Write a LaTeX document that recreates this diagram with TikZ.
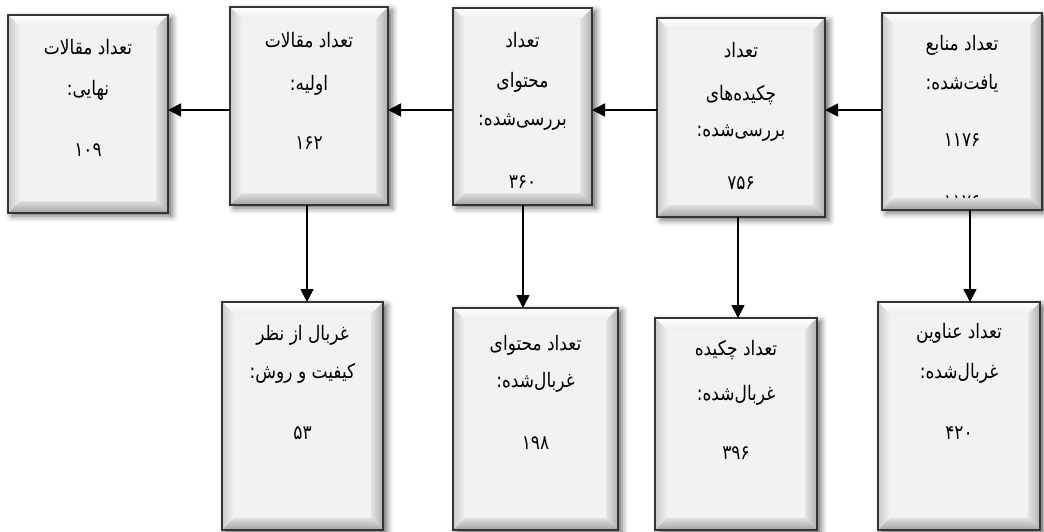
\documentclass[tikz,border=0pt]{standalone}
\usepackage{fontspec}
\newfontfamily\arabicfont[Script=Arabic,FakeStretch=0.85]{DejaVu Sans}
\TeXXeTstate=1
\usetikzlibrary{arrows.meta,calc,shadows.blur}
\definecolor{face}{HTML}{F2F2F2}
\definecolor{edgec}{HTML}{353535}
\newcommand\ar[1]{{\arabicfont\beginR #1\endR}}
\newcommand\nm[1]{{\arabicfont #1}}
\def\bw{12pt}
\tikzset{
  boxnode/.style={rectangle, fill=face, inner sep=0pt, outer sep=0pt,
    blur shadow={shadow xshift=4pt, shadow yshift=-3pt, shadow blur radius=6pt, shadow opacity=60}},
  txt/.style={font=\fontsize{20}{24}\selectfont, inner sep=0pt, text=black},
  arr/.style={line width=1.6pt, draw=black, -{Triangle[length=13pt,width=13pt]}},
}
% name, x1, y1, x2, y2 (pixels, y downwards)
\newcommand\bevface[5]{%
  \node[boxnode, minimum width={(#4-#2)*1pt}, minimum height={(#5-#3)*1pt}]
    (#1) at ({(#2+#4)/2},{(#3+#5)/2}) {};}
\newcommand\bevframe[1]{%
  \shade[top color=white, bottom color=gray!14]
    (#1.north west) -- (#1.north east) -- ($(#1.north east)+(-\bw,-\bw)$) -- ($(#1.north west)+(\bw,-\bw)$) -- cycle;
  \shade[left color=gray!42, right color=gray!10]
    (#1.north west) -- ($(#1.north west)+(\bw,-\bw)$) -- ($(#1.south west)+(\bw,\bw)$) -- (#1.south west) -- cycle;
  \shade[left color=gray!22, right color=gray!62]
    (#1.north east) -- (#1.south east) -- ($(#1.south east)+(-\bw,\bw)$) -- ($(#1.north east)+(-\bw,-\bw)$) -- cycle;
  \shade[top color=gray!25, bottom color=gray!72]
    (#1.south west) -- ($(#1.south west)+(\bw,\bw)$) -- ($(#1.south east)+(-\bw,\bw)$) -- (#1.south east) -- cycle;
  \draw[edgec, line width=1.8pt] (#1.north west) rectangle (#1.south east);}
% name, box, y, text
\newcommand\tline[4]{\node[txt] (#1) at (#2.center |- 0,#3) {#4};}
\begin{document}
\begin{tikzpicture}[x=1pt,y=-1pt]
\useasboundingbox (0,0) rectangle (1044,532);
% top row
\bevface{b1}{8}{15}{168}{213}\bevframe{b1}
\bevface{b2}{230}{7}{388}{205}\bevframe{b2}
\bevface{b3}{453}{8}{592}{205}\bevframe{b3}
\bevface{b4}{657}{18}{825}{217}\bevframe{b4}
\bevface{b5}{882}{13}{1042}{210}
\tline{b5l4}{b5}{202}{\nm{۱۱۷۶}}
\bevframe{b5}
% bottom row
\bevface{b6}{222}{302}{383}{530}\bevframe{b6}
\bevface{b7}{453}{308}{618}{530}\bevframe{b7}
\bevface{b8}{655}{318}{817}{530}\bevframe{b8}
\bevface{b9}{878}{302}{1040}{530}\bevframe{b9}
% texts
\tline{b1l1}{b1}{47}{\ar{تعداد مقالات}}
\tline{b1l2}{b1}{90}{\ar{نهایی:}}
\tline{b1l3}{b1}{150}{\nm{۱۰۹}}
\tline{b2l1}{b2}{40}{\ar{تعداد مقالات}}
\tline{b2l2}{b2}{85}{\ar{اولیه:}}
\tline{b2l3}{b2}{143}{\nm{۱۶۲}}
\tline{b3l1}{b3}{40}{\ar{تعداد}}
\tline{b3l2}{b3}{82}{\ar{محتوای}}
\tline{b3l3}{b3}{122}{\ar{بررسی‌شده:}}
\tline{b3l4}{b3}{182}{\nm{۳۶۰}}
\tline{b4l1}{b4}{50}{\ar{تعداد}}
\tline{b4l2}{b4}{95}{\ar{چکیده‌های}}
\tline{b4l3}{b4}{133}{\ar{بررسی‌شده:}}
\tline{b4l4}{b4}{183}{\nm{۷۵۶}}
\tline{b5l1}{b5}{45}{\ar{تعداد منابع}}
\tline{b5l2}{b5}{83}{\ar{یافت‌شده:}}
\tline{b5l3}{b5}{140}{\nm{۱۱۷۶}}
\tline{b6l1}{b6}{335}{\ar{غربال از نظر}}
\tline{b6l2}{b6}{373}{\ar{کیفیت و روش:}}
\tline{b6l3}{b6}{433}{\nm{۵۳}}
\tline{b7l1}{b7}{345}{\ar{تعداد محتوای}}
\tline{b7l2}{b7}{382}{\ar{غربال‌شده:}}
\tline{b7l3}{b7}{443}{\nm{۱۹۸}}
\tline{b8l1}{b8}{350}{\ar{تعداد چکیده}}
\tline{b8l2}{b8}{395}{\ar{غربال‌شده:}}
\tline{b8l3}{b8}{453}{\nm{۳۹۶}}
\tline{b9l1}{b9}{333}{\ar{تعداد عناوین}}
\tline{b9l2}{b9}{373}{\ar{غربال‌شده:}}
\tline{b9l3}{b9}{433}{\nm{۴۲۰}}
% connectors
\coordinate (row) at (0,110);
\coordinate (c2) at (307,0);
\coordinate (c3) at (523,0);
\coordinate (c4) at (738,0);
\coordinate (c5) at (970,0);
\draw[arr] (b5.west |- row) -- (b4.east |- row);
\draw[arr] (b4.west |- row) -- (b3.east |- row);
\draw[arr] (b3.west |- row) -- (b2.east |- row);
\draw[arr] (b2.west |- row) -- (b1.east |- row);
\draw[arr] (b2.south -| c2) -- (b6.north -| c2);
\draw[arr] (b3.south -| c3) -- (b7.north -| c3);
\draw[arr] (b4.south -| c4) -- (b8.north -| c4);
\draw[arr] (b5.south -| c5) -- (b9.north -| c5);
\end{tikzpicture}
\end{document}
